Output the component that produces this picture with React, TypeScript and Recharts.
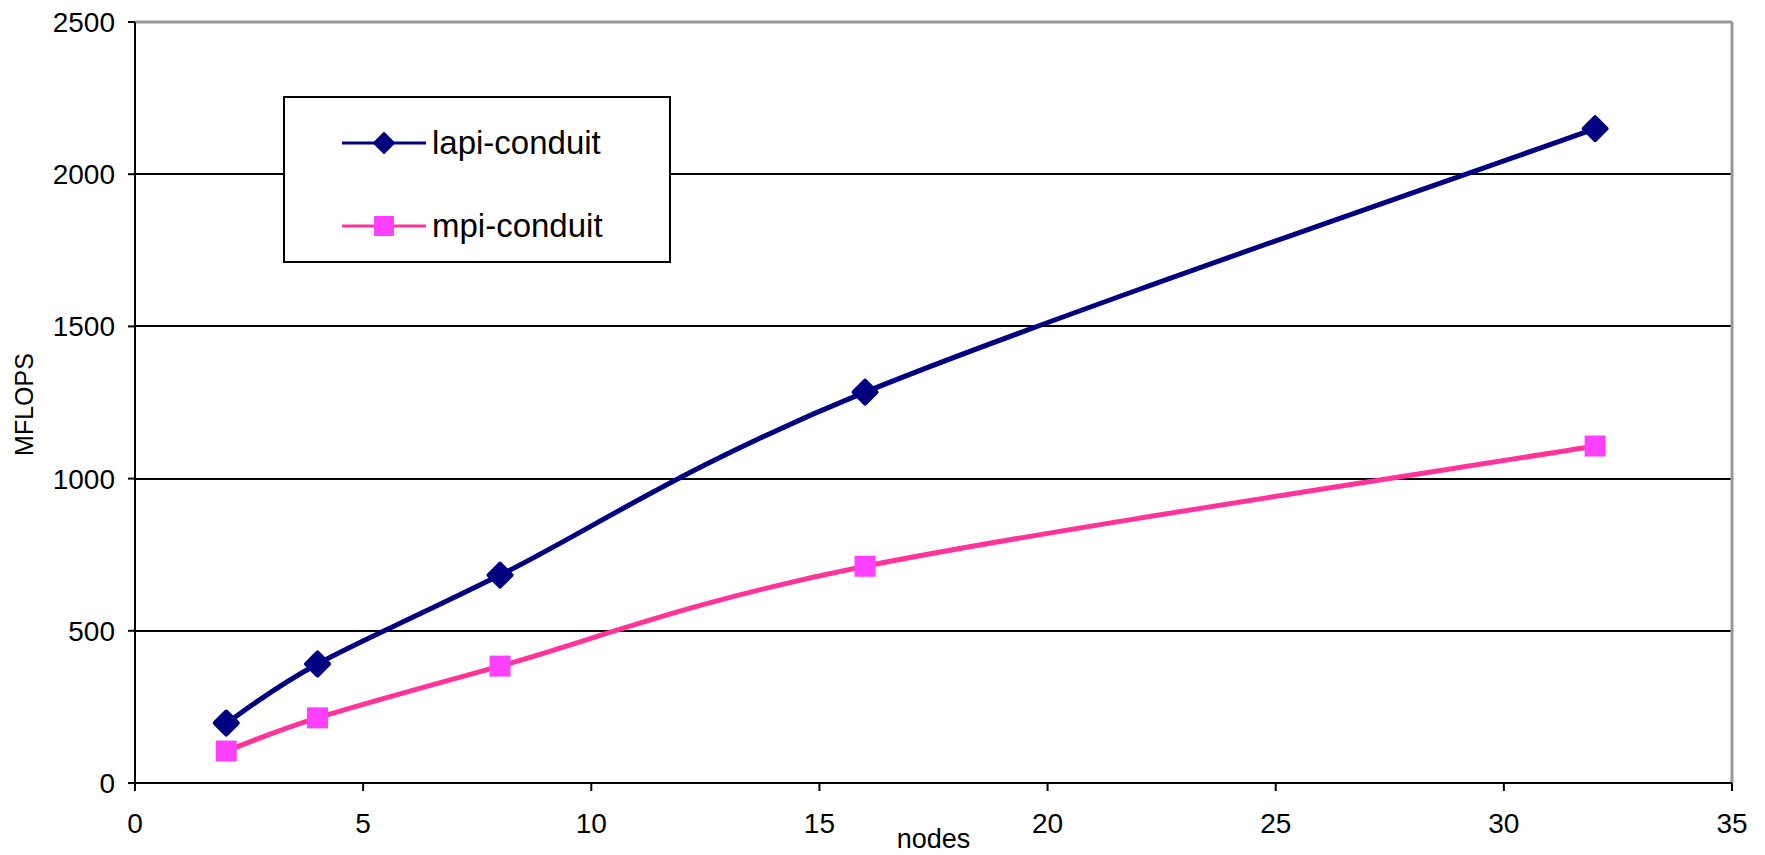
import React from 'react';
import { LineChart, Line, XAxis, YAxis, CartesianGrid, Legend, ReferenceLine, Label } from 'recharts';

const nodes = [2, 4, 8, 16, 32];
const lapiConduit = [197, 391, 683, 1284, 2150];
const mpiConduit = [105, 214, 384, 712, 1107];
const xTicks = [0, 5, 10, 15, 20, 25, 30, 35];
const yTicks = [0, 500, 1000, 1500, 2000, 2500];

const FONT = '"Liberation Sans", Arial, sans-serif';
const NAVY = '#000080';
const PINK = '#FF3399';
const MAGENTA = '#FF40FF';

const data = nodes.map((n, i) => ({ nodes: n, lapi: lapiConduit[i], mpi: mpiConduit[i] }));

// excel-style smoothed line (catmull-rom through the points)
const smoothCurve = (context: any) => {
  let pts: number[][] = [];
  return {
    areaStart() {},
    areaEnd() {},
    lineStart() {
      pts = [];
    },
    point(x: number, y: number) {
      pts.push([+x, +y]);
    },
    lineEnd() {
      if (!pts.length) return;
      context.moveTo(pts[0][0], pts[0][1]);
      for (let i = 0; i < pts.length - 1; i++) {
        const p0 = pts[i - 1] || pts[i];
        const p1 = pts[i];
        const p2 = pts[i + 1];
        const p3 = pts[i + 2] || pts[i + 1];
        context.bezierCurveTo(
          p1[0] + (p2[0] - p0[0]) / 6,
          p1[1] + (p2[1] - p0[1]) / 6,
          p2[0] - (p3[0] - p1[0]) / 6,
          p2[1] - (p3[1] - p1[1]) / 6,
          p2[0],
          p2[1]
        );
      }
    },
  };
};

const diamondPoints = (cx: number, cy: number, r: number) =>
  `${cx},${cy - r} ${cx + r},${cy} ${cx},${cy + r} ${cx - r},${cy}`;

const DiamondDot = (p: any) => {
  if (p.cx == null || p.cy == null) return <g key={`d-${p.index}`} />;
  return (
    <polygon
      key={`d-${p.index}`}
      points={diamondPoints(p.cx, p.cy, 11.5)}
      fill={NAVY}
      stroke={NAVY}
      strokeWidth={4}
      strokeLinejoin="round"
    />
  );
};

const SquareDot = (p: any) => {
  if (p.cx == null || p.cy == null) return <g key={`s-${p.index}`} />;
  return <rect key={`s-${p.index}`} x={p.cx - 10.5} y={p.cy - 10.5} width={21} height={21} fill={MAGENTA} />;
};

const LegendBox = () => {
  const rows = [
    { name: 'lapi-conduit', color: NAVY, marker: 'diamond' },
    { name: 'mpi-conduit', color: PINK, marker: 'square' },
  ];
  return (
    <div style={{ paddingTop: 3, fontFamily: FONT }}>
      {rows.map((r) => (
        <div key={r.name} style={{ height: 83, display: 'flex', alignItems: 'center', paddingLeft: 57 }}>
          <svg width={84} height={30}>
            <line x1={0} y1={15} x2={84} y2={15} stroke={r.color} strokeWidth={3} />
            {r.marker === 'diamond' ? (
              <polygon points={diamondPoints(42, 15, 10)} fill={NAVY} stroke={NAVY} strokeWidth={2} strokeLinejoin="round" />
            ) : (
              <rect x={32} y={5} width={20} height={20} fill={MAGENTA} />
            )}
          </svg>
          <span style={{ fontSize: 33, color: '#000', marginLeft: 6, lineHeight: 1 }}>{r.name}</span>
        </div>
      ))}
    </div>
  );
};

export default function App() {
  return (
    <div style={{ position: 'absolute', left: 0, top: 0, background: '#fff', fontFamily: FONT }}>
      <LineChart width={1765} height={855} data={data} margin={{ top: 22, right: 33, bottom: 0, left: 0 }}>
        <CartesianGrid horizontal vertical={false} stroke="#000" strokeWidth={2} strokeOpacity={1} shapeRendering="crispEdges" />
        <XAxis
          type="number"
          dataKey="nodes"
          domain={[0, 35]}
          ticks={xTicks}
          height={72}
          stroke="#000"
          axisLine={{ stroke: '#000', strokeWidth: 2 }}
          tickLine={{ stroke: '#000', strokeWidth: 2 }}
          tickSize={8}
          tickMargin={22}
          tick={{ fill: '#000', fontSize: 28, fontFamily: FONT }}
        >
          <Label
            content={({ viewBox }: any) => (
              <text
                x={viewBox.x + viewBox.width / 2}
                y={viewBox.y + 65}
                textAnchor="middle"
                fontSize={27}
                fontFamily={FONT}
                fill="#000"
              >
                nodes
              </text>
            )}
          />
        </XAxis>
        <YAxis
          type="number"
          domain={[0, 2500]}
          ticks={yTicks}
          width={135}
          stroke="#000"
          axisLine={{ stroke: '#000', strokeWidth: 2 }}
          tickLine={{ stroke: '#000', strokeWidth: 2 }}
          tickSize={7}
          tickMargin={13}
          tick={{ fill: '#000', fontSize: 28, fontFamily: FONT }}
        >
          <Label
            content={({ viewBox }: any) => {
              const x = viewBox.x + 24;
              const y = viewBox.y + viewBox.height / 2 + 2;
              return (
                <text
                  x={x}
                  y={y}
                  transform={`rotate(-90, ${x}, ${y})`}
                  textAnchor="middle"
                  dominantBaseline="central"
                  fontSize={25}
                  fontFamily={FONT}
                  fill="#000"
                >
                  MFLOPS
                </text>
              );
            }}
          />
        </YAxis>
        <ReferenceLine y={2500} stroke="#999" strokeWidth={3} />
        <ReferenceLine x={35} stroke="#999" strokeWidth={3} />
        <Legend
          layout="vertical"
          align="center"
          verticalAlign="middle"
          content={() => <LegendBox />}
          wrapperStyle={{
            left: 283,
            top: 96,
            width: 388,
            height: 167,
            border: '2px solid #000',
            background: '#fff',
            boxSizing: 'border-box',
          }}
        />
        <Line
          type={smoothCurve as any}
          dataKey="lapi"
          name="lapi-conduit"
          stroke={NAVY}
          strokeWidth={5}
          dot={(p: any) => <DiamondDot {...p} key={`d-${p.index}`} />}
          activeDot={false}
          isAnimationActive={false}
        />
        <Line
          type={smoothCurve as any}
          dataKey="mpi"
          name="mpi-conduit"
          stroke={PINK}
          strokeWidth={5}
          dot={(p: any) => <SquareDot {...p} key={`s-${p.index}`} />}
          activeDot={false}
          isAnimationActive={false}
        />
      </LineChart>
    </div>
  );
}
